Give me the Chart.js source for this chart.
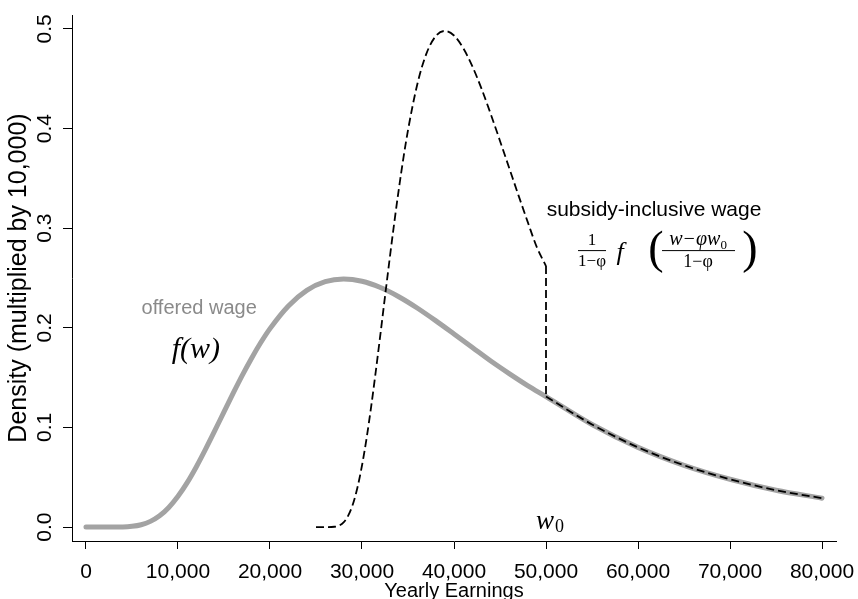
<!DOCTYPE html>
<html><head><meta charset="utf-8">
<script src="https://cdn.jsdelivr.net/npm/chart.js@4.4.1/dist/chart.umd.min.js"></script>
<style>html,body{margin:0;padding:0;background:#fff;}#wrap{width:858px;height:599px;}</style>
</head><body><div id="wrap"><canvas id="c" width="858" height="599"></canvas></div>
<script>
// Offered wage density f(w) (multiplied by 10,000)
const earnings = [0, 2000, 4000, 5000, 6000, 7000, 8000, 9000, 10000, 11000, 12000, 13000, 14000, 15000, 16000, 17000, 18000, 19000, 20000, 22000, 24000, 26000, 28000, 30000, 32000, 34000, 36000, 38000, 40000, 42000, 44000, 46000, 48000, 50000, 55000, 60000, 65000, 70000, 75000, 80000];
const offeredWage = [0, 0, 0.0001, 0.0007, 0.0023, 0.0057, 0.0113, 0.0197, 0.0309, 0.0446, 0.0606, 0.0782, 0.0967, 0.1157, 0.1344, 0.1525, 0.1695, 0.1852, 0.1992, 0.2220, 0.2376, 0.2463, 0.2490, 0.2467, 0.2404, 0.2312, 0.2199, 0.2072, 0.1938, 0.1802, 0.1666, 0.1540, 0.1420, 0.1310, 0.1030, 0.0800, 0.0620, 0.0480, 0.0370, 0.0290];
// Subsidy-inclusive wage density below w0
const subsidyEarnings = [25000, 26000, 27000, 27500, 28000, 28500, 29000, 29500, 30000, 30500, 31000, 31500, 32000, 32500, 33000, 33500, 34000, 34500, 35000, 36000, 37000, 38000, 39000, 40000, 41000, 42000, 43000, 44000, 45000, 46000, 47000, 48000, 49000, 50000];
const subsidyWage = [0, 0, 0.0003, 0.0014, 0.0047, 0.0114, 0.0227, 0.0394, 0.0618, 0.0892, 0.1212, 0.1564, 0.1934, 0.2314, 0.2688, 0.3050, 0.3390, 0.3704, 0.3984, 0.4440, 0.4752, 0.4926, 0.4980, 0.4934, 0.4808, 0.4624, 0.4398, 0.4144, 0.3876, 0.3604, 0.3332, 0.3066, 0.2810, 0.2620];
// Jump at w0
const jumpEarnings = [50000, 50000];
const jumpWage = [0.2620, 0.1310];
const w0 = 50000;
// Axis ticks
const xTicks = [0, 10000, 20000, 30000, 40000, 50000, 60000, 70000, 80000];
const xTickLabels = ["0", "10,000", "20,000", "30,000", "40,000", "50,000", "60,000", "70,000", "80,000"];
const yTicks = [0, 0.1, 0.2, 0.3, 0.4, 0.5];
const yTickLabels = ["0.0", "0.1", "0.2", "0.3", "0.4", "0.5"];

const pts = (xs, ys) => xs.map((x, i) => ({x: x, y: ys[i]}));
const tailPts = pts(earnings, offeredWage).filter(p => p.x >= w0);

const SANS = '"Liberation Sans", Arial, Helvetica, sans-serif';
const SERIF = '"Liberation Serif", "Times New Roman", serif';

const annot = {
  id: 'annot',
  afterDraw(chart) {
    const ctx = chart.ctx, xs = chart.scales.x, ys = chart.scales.y;
    const px = v => xs.getPixelForValue(v), py = v => ys.getPixelForValue(v);
    ctx.save();
    ctx.textAlign = 'center'; ctx.textBaseline = 'middle';
    // offered wage
    ctx.fillStyle = '#8a8a8a';
    ctx.font = '20px ' + SANS;
    ctx.fillText('offered wage', px(12300), py(0.219));
    ctx.fillStyle = '#000';
    ctx.font = 'italic 30px ' + SERIF;
    ctx.fillText('f(w)', px(11950), py(0.178));
    // subsidy-inclusive
    ctx.font = '21px ' + SANS;
    ctx.fillText('subsidy-inclusive wage', px(61740), py(0.318));
    const fx = px(61740), fy = py(0.278);
    ctx.strokeStyle = '#000'; ctx.lineWidth = 1;
    ctx.font = '17px ' + SERIF;
    ctx.fillText('1', fx - 62, fy - 10);
    ctx.fillText('1\u2212\u03C6', fx - 62, fy + 11);
    ctx.beginPath(); ctx.moveTo(fx - 76, fy + 0.5); ctx.lineTo(fx - 48, fy + 0.5); ctx.stroke();
    ctx.font = 'italic 26px ' + SERIF;
    ctx.fillText('f', fx - 34, fy + 3);
    ctx.font = '46px ' + SERIF;
    ctx.fillText('(', fx + 2, fy + 1);
    ctx.fillText(')', fx + 96, fy + 1);
    ctx.textAlign = 'left';
    ctx.font = 'italic 20px ' + SERIF;
    const numW = ctx.measureText('w\u2212\u03C6w').width;
    ctx.font = '13px ' + SERIF;
    const subW = ctx.measureText('0').width;
    const nx = fx + 44 - (numW + subW) / 2;
    ctx.font = 'italic 20px ' + SERIF;
    ctx.fillText('w\u2212\u03C6w', nx, fy - 10);
    ctx.font = '13px ' + SERIF;
    ctx.fillText('0', nx + numW, fy - 5);
    ctx.textAlign = 'center';
    ctx.font = '18px ' + SERIF;
    ctx.fillText('1\u2212\u03C6', fx + 44, fy + 12);
    ctx.beginPath(); ctx.moveTo(fx + 8, fy + 0.5); ctx.lineTo(fx + 81, fy + 0.5); ctx.stroke();
    // w0 label
    ctx.textAlign = 'left';
    ctx.font = 'italic 27px ' + SERIF;
    const wx = px(w0), wy = py(0.005);
    const ww = ctx.measureText('w').width;
    ctx.fillText('w', wx - 10, wy);
    ctx.font = '18px ' + SERIF;
    ctx.fillText('0', wx - 10 + ww + 1, wy + 5);
    ctx.restore();
  }
};

new Chart(document.getElementById('c'), {
  type: 'line',
  data: {
    datasets: [
      {data: pts(subsidyEarnings, subsidyWage), borderColor: '#000', borderWidth: 1.8, borderDash: [8, 4], pointRadius: 0, cubicInterpolationMode: 'monotone', fill: false, order: 1},
      {data: pts(jumpEarnings, jumpWage), borderColor: '#000', borderWidth: 1.8, borderDash: [8, 4], pointRadius: 0, tension: 0, fill: false, order: 1},
      {data: tailPts, borderColor: '#000', borderWidth: 1.8, borderDash: [8, 4], pointRadius: 0, cubicInterpolationMode: 'monotone', fill: false, order: 1},
      {data: pts(earnings, offeredWage), borderColor: '#a3a3a3', borderWidth: 5, borderCapStyle: 'round', pointRadius: 0, cubicInterpolationMode: 'monotone', fill: false, order: 3}
    ]
  },
  options: {
    responsive: false, animation: false, devicePixelRatio: 1,
    layout: {padding: {left: 0, right: 22, top: 15, bottom: 0}},
    plugins: {legend: {display: false}, tooltip: {enabled: false}},
    scales: {
      x: {
        type: 'linear', min: -1520, max: 81520,
        afterBuildTicks: s => { s.ticks = xTicks.map(v => ({value: v})); },
        afterFit: s => { s.height = 58; s.paddingLeft = 0; s.paddingRight = 0; },
        ticks: {callback: (v) => xTickLabels[xTicks.indexOf(v)], color: '#000', font: {family: SANS, size: 21}, padding: 11, maxRotation: 0, autoSkip: false},
        grid: {display: true, drawOnChartArea: false, drawTicks: true, tickLength: 8, color: '#000', lineWidth: 1},
        border: {display: true, color: '#000', width: 1},
        title: {display: true, text: 'Yearly Earnings', color: '#000', font: {family: SANS, size: 20, lineHeight: 1.0}, padding: {top: 0, bottom: -2}}
      },
      y: {
        type: 'linear', min: -0.014, max: 0.514,
        afterBuildTicks: s => { s.ticks = yTicks.map(v => ({value: v})); },
        afterFit: s => { s.width = 72; s.paddingTop = 0; s.paddingBottom = 0; },
        ticks: {callback: (v) => yTickLabels[yTicks.indexOf(v)], color: '#000', font: {family: SANS, size: 21}, padding: 3, minRotation: 90, maxRotation: 90, crossAlign: 'center', autoSkip: false},
        grid: {display: true, drawOnChartArea: false, drawTicks: true, tickLength: 9, color: '#000', lineWidth: 1},
        border: {display: true, color: '#000', width: 1},
        title: {display: true, text: 'Density (multiplied by 10,000)', color: '#000', font: {family: SANS, size: 25, lineHeight: 1.1}, padding: {top: 5, bottom: 0}}
      }
    }
  },
  plugins: [annot]
});
</script></body></html>
